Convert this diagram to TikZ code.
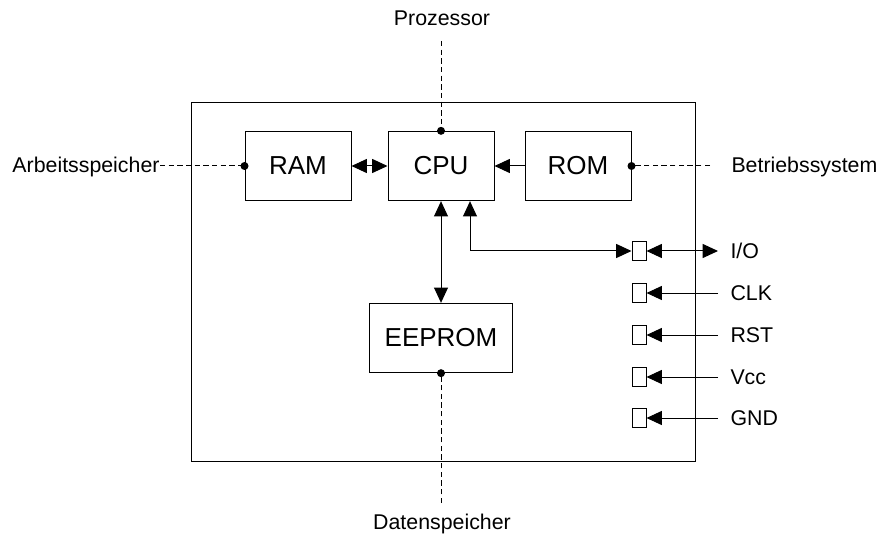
\documentclass[tikz,border=0pt]{standalone}
\usepackage{fontspec}
\setmainfont{Liberation Sans}
\usetikzlibrary{arrows.meta,positioning}

\begin{document}
\begin{tikzpicture}[x=0.75pt,y=-0.75pt,line width=0.75pt,
  box/.style={draw,minimum width=79.5pt,minimum height=52pt,font=\fontsize{19.5}{23}\selectfont},
  pinbox/.style={draw,minimum width=10.5pt,minimum height=14pt,inner sep=0pt},
  lab/.style={font=\fontsize{16}{19}\selectfont,inner sep=0pt},
  tip/.style={-{Triangle[length=11.5pt,width=10.5pt]}},
  tips/.style={{Triangle[length=11.5pt,width=10.5pt]}-{Triangle[length=11.5pt,width=10.5pt]}},
  link/.style={dash pattern=on 4pt off 2.5pt},
  dot/.style={circle,fill,inner sep=0pt,minimum size=6pt}]
  \useasboundingbox (0,0) rectangle (880,534);
  \node[draw,minimum width=378pt,minimum height=268.5pt] (chip) at (443,282) {};
  \node[box] (cpu) at (441,166) {CPU};
  \node[box] (ram) at (298,166) {RAM};
  \node[box] (rom) at (578,166) {ROM};
  \node[box,minimum width=107pt] (eeprom) at (441,338) {EEPROM};
  \foreach \y/\n/\t in {251/io/{I/O},293/clk/CLK,335/rst/RST,377/vcc/Vcc,418/gnd/GND}{
    \node[pinbox] (\n) at (639,\y) {};
    \node[lab,anchor=west] (\n-lab) at (730,\y) {\t};
    \coordinate (\n-end) at (718,\y);
  }
  \node[lab,anchor=base] (proz) at (442,26) {Prozessor};
  \node[lab,anchor=base east] (arb) at (160,173) {Arbeitsspeicher};
  \node[lab,anchor=base west] (betr) at (731,173) {Betriebssystem};
  \node[lab,anchor=base] (daten) at (442,529) {Datenspeicher};
  \coordinate (proz-end) at (441,41);
  \coordinate (daten-end) at (441,503);
  \coordinate (betr-end) at (710,166);
  \draw[tips] (ram) -- (cpu);
  \draw[tip] (rom) -- (cpu);
  \draw[tips] (cpu) -- (eeprom);
  \draw[tips] ([xshift=21.75pt]cpu.south) |- (io.west);
  \draw[tips] (io.east) -- (io-end);
  \foreach \n in {clk,rst,vcc,gnd}
    \draw[tip] (\n-end) -- (\n.east);
  \draw[link] (proz-end) -- (cpu.north) node[dot] {};
  \draw[link] (arb.east |- ram.west) -- (ram.west) node[dot] {};
  \draw[link] (betr-end) -- (rom.east) node[dot] {};
  \draw[link] (daten-end) -- (eeprom.south) node[dot] {};
\end{tikzpicture}
\end{document}
